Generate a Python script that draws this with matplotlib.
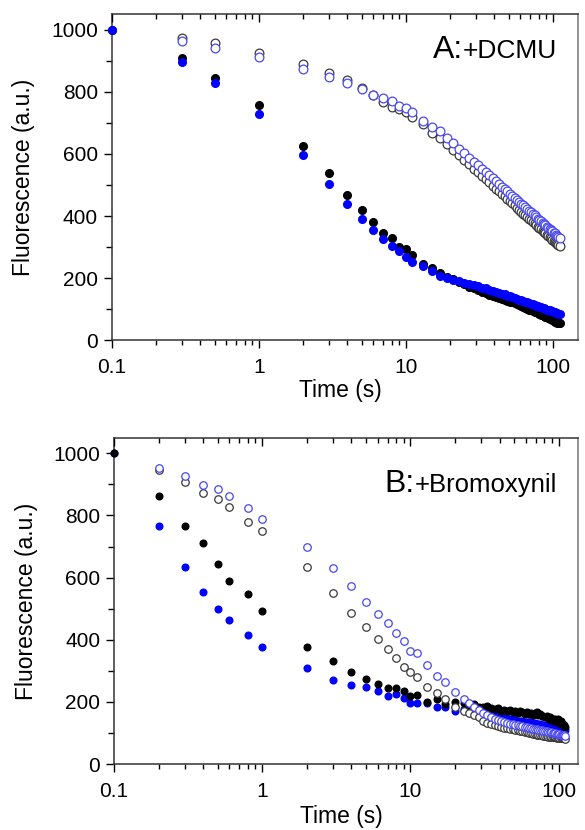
import matplotlib.pyplot as plt
from matplotlib.offsetbox import TextArea, HPacker, AnchoredOffsetbox
from matplotlib.ticker import FixedLocator, NullFormatter, LogLocator

plt.rcParams['font.family'] = ['Liberation Sans', 'DejaVu Sans']

# ---- Panel A: +DCMU ----
t_a = [0.1, 0.3, 0.5, 1, 2, 3, 4, 5, 6, 7, 8, 9, 10, 11, 13, 15, 17, 19] + list(range(21, 112, 2))

a_black_filled = [1000, 910, 845, 758, 626, 539, 468, 419, 381, 345, 329, 300, 294, 274, 245, 232, 216, 205,
                  197, 188, 181, 173, 167, 161, 155, 152, 147, 144, 140, 137, 133, 131, 128, 124, 122, 119,
                  116, 113, 111, 107, 105, 102, 99, 98, 94, 92, 90, 87, 85, 81, 80, 78, 75, 74, 71, 68, 67,
                  64, 63, 60, 59, 57, 56, 55]
a_blue_filled = [1000, 897, 827, 729, 597, 503, 439, 390, 355, 326, 303, 287, 268, 252, 239, 224, 208, 200,
                 194, 190, 186, 182, 178, 174, 169, 167, 163, 158, 156, 152, 150, 148, 144, 141, 139, 136,
                 134, 131, 129, 128, 124, 122, 120, 118, 116, 114, 112, 110, 108, 106, 105, 103, 101, 99,
                 98, 96, 94, 93, 91, 90, 88, 87, 86, 84]
# open symbols start at 0.3 s
a_black_open = [973, 958, 926, 890, 861, 839, 813, 790, 768, 752, 745, 735, 719, 696, 667, 651, 632,
                614, 596, 581, 567, 553, 541, 529, 518, 508, 498, 488, 480, 471, 463, 455, 448, 441, 434,
                427, 420, 414, 408, 402, 397, 391, 386, 381, 376, 371, 366, 362, 357, 353, 348, 344, 340,
                336, 331, 328, 324, 320, 316, 313, 309, 306, 303]
a_blue_open = [964, 941, 912, 874, 848, 829, 810, 790, 781, 771, 755, 748, 736, 706, 687, 674, 652,
               634, 617, 602, 588, 575, 563, 551, 541, 531, 521, 512, 503, 495, 487, 479, 472, 465, 458,
               452, 445, 439, 434, 428, 422, 417, 412, 407, 402, 397, 392, 388, 383, 379, 374, 371, 366,
               363, 358, 355, 351, 347, 344, 340, 337, 333, 330]

# ---- Panel B: +Bromoxynil ----
t_b = [0.1, 0.2, 0.3, 0.4, 0.5, 0.6, 0.8, 1, 2, 3, 4, 5, 6, 7, 8, 9, 10, 11, 13, 15, 17, 20] + list(range(23, 112, 2))

b_black_filled = [1000, 862, 765, 711, 643, 588, 547, 492, 376, 331, 296, 273, 257, 244, 244, 235, 219, 222,
                  199, 209, 193, 199,
                  195, 188, 192, 185, 183, 188, 179, 176, 181, 172, 175, 170, 174, 168, 171, 165, 170, 167,
                  162, 168, 160, 165, 158, 163, 166, 157, 160, 154, 156, 150, 153, 147, 150, 143, 146, 140,
                  144, 137, 145, 132, 138, 128, 130, 124, 120]
b_blue_filled = [1000, 765, 633, 553, 498, 463, 415, 376, 309, 270, 254, 248, 235, 219, 225, 212, 196, 198,
                 196, 183, 183, 171,
                 178, 176, 172, 170, 167, 164, 161, 159, 156, 151, 150, 148, 146, 144, 142, 140, 139, 137,
                 136, 135, 134, 135, 132, 131, 130, 129, 128, 127, 126, 125, 124, 123, 122, 121, 120, 119,
                 118, 117, 116, 115, 114, 113, 112, 111, 110]
# open symbols start at 0.2 s
b_black_open = [945, 907, 872, 852, 826, 778, 749, 633, 550, 485, 441, 402, 370, 341, 312, 296, 280, 248,
                228, 209, 183,
                172, 165, 158, 150, 140, 132, 128, 125, 121, 119, 117, 116, 114, 112, 110, 108, 107, 105,
                103, 102, 100, 99, 98, 96, 95, 94, 93, 92, 91, 90, 89, 88, 88, 87, 87, 86, 86, 85, 85, 84,
                84, 84, 83, 83, 82]
b_blue_open = [952, 926, 897, 884, 862, 823, 788, 698, 630, 572, 520, 483, 453, 421, 396, 365, 356, 318,
               283, 264, 232,
               209, 196, 185, 175, 165, 158, 150, 146, 141, 138, 135, 132, 130, 128, 126, 124, 122, 121,
               119, 118, 116, 115, 114, 113, 112, 110, 109, 108, 107, 106, 105, 104, 103, 102, 101, 100,
               99, 98, 97, 96, 95, 94, 93, 92, 91]

x_ticks = [0.1, 1, 10, 100]
x_ticklabels = ['0.1', '1', '10', '100']

BLUE = '#0000ff'
BLUE_OPEN = '#4848f0'
GREY_OPEN = '#3a3a3a'


def style_axes(ax, xmax):
    ax.set_xscale('log')
    ax.set_xlim(0.1, xmax)
    ax.set_ylim(0, 1050)
    ax.xaxis.set_major_locator(FixedLocator(x_ticks))
    ax.set_xticklabels(x_ticklabels)
    ax.xaxis.set_minor_locator(LogLocator(base=10, subs=range(2, 10)))
    ax.xaxis.set_minor_formatter(NullFormatter())
    ax.set_yticks(range(0, 1001, 200))
    ax.set_yticks(range(100, 1001, 200), minor=True)
    ax.tick_params(axis='x', which='major', direction='out', length=6, width=1, pad=7,
                   labelsize=15, top=False)
    ax.tick_params(axis='x', which='minor', direction='out', length=3.5, width=1, top=False)
    ax.tick_params(axis='y', which='major', direction='out', length=6, width=1, pad=4,
                   labelsize=15, right=False)
    ax.tick_params(axis='y', which='minor', direction='out', length=4.5, width=1, right=False)
    for s in ax.spines.values():
        s.set_linewidth(1.1)
        s.set_color('#333333')
    ax.spines['right'].set_color('#777777')
    ax.set_ylabel('Fluorescence (a.u.)', fontsize=16.5)
    ax.set_xlabel('Time (s)', fontsize=16.5)
    ax.yaxis.set_label_coords(-0.165, 0.5)

    # inward ticks along the top frame
    top = ax.twiny()
    top.set_xscale('log')
    top.set_xlim(ax.get_xlim())
    top.xaxis.set_major_locator(FixedLocator(x_ticks))
    top.xaxis.set_minor_locator(LogLocator(base=10, subs=range(2, 10)))
    top.xaxis.set_major_formatter(NullFormatter())
    top.xaxis.set_minor_formatter(NullFormatter())
    top.tick_params(axis='x', which='major', direction='in', length=6, width=1)
    top.tick_params(axis='x', which='minor', direction='in', length=3.5, width=1)
    for s in top.spines.values():
        s.set_visible(False)


def add_tag(ax, big, small, y, big_size, small_size):
    box = HPacker(children=[TextArea(big, textprops=dict(fontsize=big_size)),
                            TextArea(small, textprops=dict(fontsize=small_size))],
                  align='baseline', pad=0, sep=0)
    anchored = AnchoredOffsetbox(loc='upper right', child=box, frameon=False,
                                 bbox_to_anchor=(0.955, y), bbox_transform=ax.transAxes,
                                 borderpad=0, pad=0)
    ax.add_artist(anchored)


fig = plt.figure(figsize=(5.85, 8.3), dpi=100)

# Panel A
ax_a = fig.add_axes([0.191, 0.590, 0.797, 0.393])
style_axes(ax_a, 148)
ax_a.plot(t_a, a_black_filled, 'o', color='black', ms=5.5, ls='none', clip_on=False, zorder=3)
ax_a.plot(t_a, a_blue_filled, 'o', color=BLUE, ms=5.5, ls='none', clip_on=False, zorder=3)
ax_a.plot(t_a[1:], a_black_open, 'o', mfc='white', mec=GREY_OPEN, mew=0.9, ms=6.3, ls='none', zorder=3)
ax_a.plot(t_a[1:], a_blue_open, 'o', mfc='white', mec=BLUE_OPEN, mew=0.9, ms=6.3, ls='none', zorder=3)
ax_a.xaxis.set_label_coords(0.49, -0.12)
add_tag(ax_a, 'A:', '+DCMU', 0.935, 23, 19)

# Panel B
ax_b = fig.add_axes([0.195, 0.0795, 0.793, 0.393])
style_axes(ax_b, 135)
ax_b.plot(t_b, b_blue_filled, 'o', color=BLUE, ms=4.8, ls='none', clip_on=False, zorder=3)
ax_b.plot(t_b, b_black_filled, 'o', color='black', ms=4.8, ls='none', clip_on=False, zorder=3)
ax_b.plot(t_b[1:], b_black_open, 'o', mfc='white', mec=GREY_OPEN, mew=0.9, ms=5.4, ls='none', zorder=3)
ax_b.plot(t_b[1:], b_blue_open, 'o', mfc='white', mec=BLUE_OPEN, mew=0.9, ms=5.4, ls='none', zorder=3)
ax_b.xaxis.set_label_coords(0.49, -0.125)
add_tag(ax_b, 'B:', '+Bromoxynil', 0.905, 23, 18.5)

fig.savefig('out.png', dpi=100)
